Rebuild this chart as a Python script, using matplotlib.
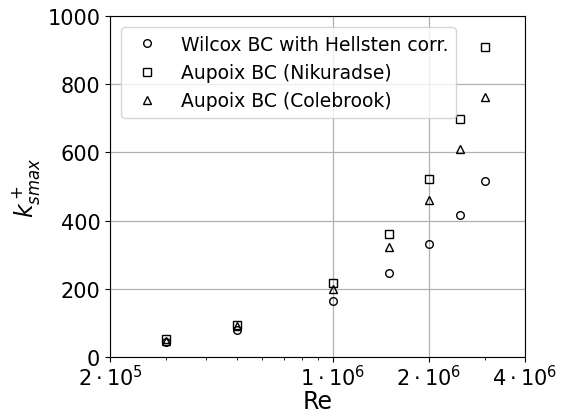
import matplotlib
matplotlib.use("Agg")
import matplotlib.pyplot as plt
from matplotlib.ticker import FixedLocator, LogLocator, NullFormatter

# --- data ---
re_vals = [3e5, 5e5, 1e6, 1.5e6, 2e6, 2.5e6, 3e6]
wilcox = [43, 79, 164, 248, 333, 418, 515]
nikuradse = [53, 95, 217, 361, 523, 699, 910]
colebrook = [48, 92, 199, 323, 460, 609, 763]

x_ticks = [2e5, 1e6, 2e6, 4e6]
x_tick_labels = [r"$2\cdot10^5$", r"$1\cdot10^6$", r"$2\cdot10^6$", r"$4\cdot10^6$"]
y_ticks = [0, 200, 400, 600, 800, 1000]

fig = plt.figure(figsize=(5.64, 4.14), dpi=100)
ax = fig.add_axes([0.195, 0.135, 0.736, 0.824])

ms = 5.5
ax.plot(re_vals, wilcox, linestyle="none", marker="o", mfc="none", mec="black",
        ms=ms, label="Wilcox BC with Hellsten corr.")
ax.plot(re_vals, nikuradse, linestyle="none", marker="s", mfc="none", mec="black",
        ms=ms, label="Aupoix BC (Nikuradse)")
ax.plot(re_vals, colebrook, linestyle="none", marker="^", mfc="none", mec="black",
        ms=ms, label="Aupoix BC (Colebrook)")

ax.set_xscale("log")
ax.set_xlim(2e5, 4e6)
ax.set_ylim(0, 1000)
ax.xaxis.set_major_locator(FixedLocator(x_ticks))
ax.set_xticklabels(x_tick_labels)
ax.xaxis.set_minor_locator(LogLocator(base=10, subs=range(2, 10)))
ax.xaxis.set_minor_formatter(NullFormatter())
ax.set_yticks(y_ticks)

ax.tick_params(axis="both", which="major", labelsize=15)
ax.tick_params(axis="x", which="major", pad=1.5)
ax.grid(True, which="major", color="#b0b0b0", linewidth=0.9)

ax.set_xlabel("Re", fontsize=17, labelpad=0)
ax.set_ylabel(r"$k^+_{smax}$", fontsize=17)

ax.legend(loc="upper left", fontsize=13.5, handletextpad=0.8,
          borderaxespad=0.6, labelspacing=0.5)

fig.savefig("out.png", dpi=100)
